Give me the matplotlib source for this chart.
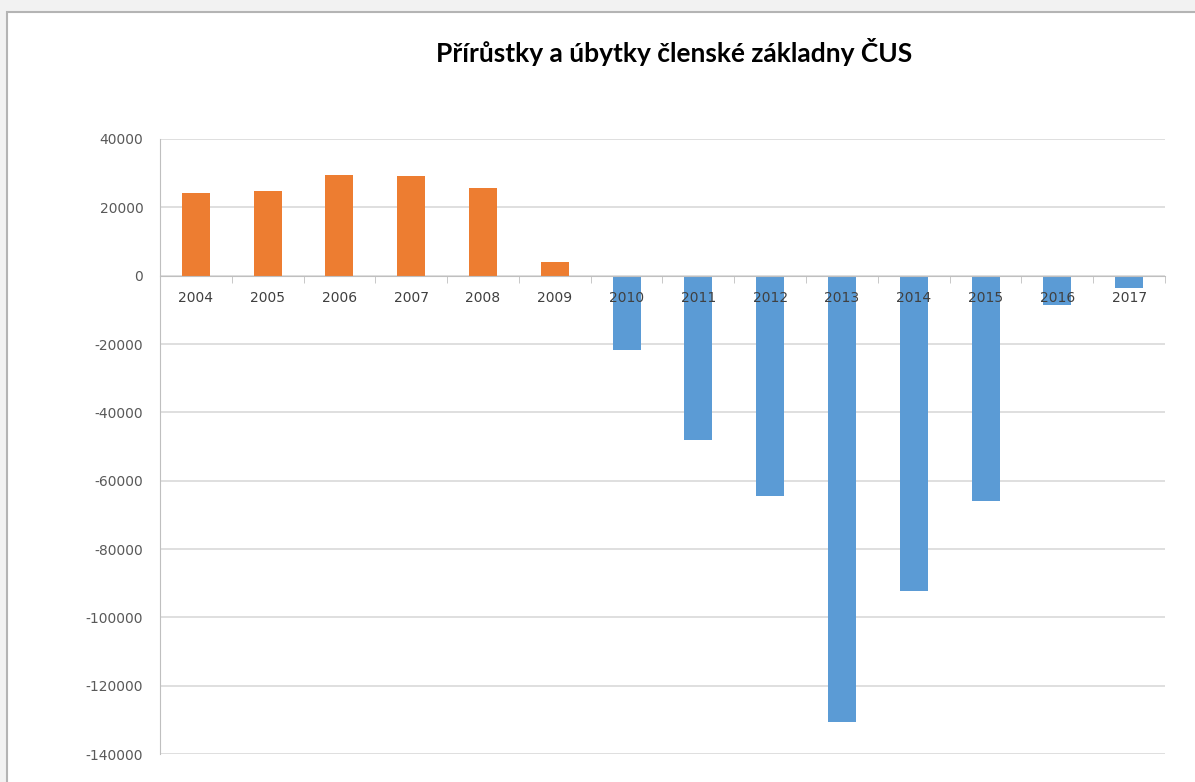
import matplotlib
matplotlib.use("Agg")
import matplotlib.pyplot as plt
import matplotlib.patches as patches

# data
years = ["2004", "2005", "2006", "2007", "2008", "2009", "2010",
         "2011", "2012", "2013", "2014", "2015", "2016", "2017"]
change = [24200, 24800, 29500, 29200, 25700, 4000, -21800,
          -48200, -64500, -130700, -92300, -66000, -8600, -3600]
y_ticks = list(range(-140000, 40001, 20000))

title = "Přírůstky a úbytky členské základny ČUS"

fig = plt.figure(figsize=(11.95, 7.82), dpi=100, facecolor="#f2f2f2")

# white chart panel with thin grey border
panel = patches.Rectangle((7 / 1195, -0.05), 1.0, 1 - 12 / 782 + 0.05,
                          transform=fig.transFigure, facecolor="white",
                          edgecolor="#b4b4b4", linewidth=1.5, zorder=-10)
fig.patches.append(panel)

ax = fig.add_axes([160 / 1195, 1 - 754 / 782, 1005 / 1195, (754 - 139) / 782])
ax.set_zorder(1)
ax.set_facecolor("none")

x = list(range(len(years)))
colors = ["#ed7d31" if v > 0 else "#5b9bd5" for v in change]
ax.bar(x, change, width=0.39, color=colors, zorder=2)

ax.set_xlim(-0.5, len(years) - 0.5)
ax.set_ylim(-140000, 40000)
ax.set_yticks(y_ticks)
ax.set_yticklabels([str(t) for t in y_ticks])
ax.yaxis.grid(True, color="#d9d9d9", linewidth=1.2, zorder=0)
ax.set_axisbelow(True)

# category axis sits on the zero line
ax.spines["bottom"].set_position(("data", 0))
ax.spines["bottom"].set_color("#bfbfbf")
ax.spines["left"].set_color("#bfbfbf")
ax.spines["top"].set_visible(False)
ax.spines["right"].set_visible(False)

ax.set_xticks(x)
ax.set_xticklabels([])
ax.set_xticks([i - 0.5 for i in range(len(years) + 1)], minor=True)
ax.tick_params(axis="x", which="major", length=0)
ax.tick_params(axis="x", which="minor", length=5, color="#bfbfbf",
               direction="out")
ax.tick_params(axis="y", length=0, pad=12, labelsize=10, labelcolor="#595959")

# year labels are drawn on top of the bars, just under the zero line
for i, yr in enumerate(years):
    ax.annotate(yr, (i, 0), xytext=(0, -16), textcoords="offset points",
                ha="center", va="center", fontsize=10, color="#404040",
                zorder=5)

fig.text(674 / 1195, 1 - 52 / 782, title, ha="center", va="center",
         fontsize=19, fontweight="bold", color="#000000", family="Lato")

fig.savefig("out.png", dpi=100, facecolor=fig.get_facecolor())
